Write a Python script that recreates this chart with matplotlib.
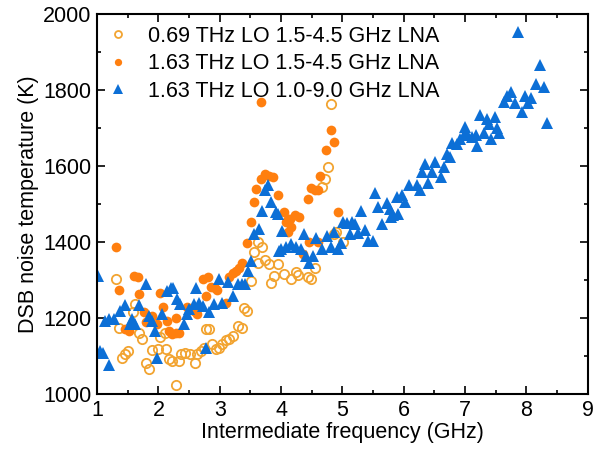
import matplotlib
matplotlib.use("Agg")
import matplotlib.pyplot as plt
from matplotlib.ticker import MultipleLocator

plt.rcParams['font.family'] = ['Liberation Sans', 'DejaVu Sans']

# 0.69 THz LO, 1.5-4.5 GHz LNA (open circles)
a_x = [1.31, 1.35, 1.40, 1.46, 1.51, 1.59, 1.62, 1.69, 1.73, 1.79, 1.84, 1.90, 2.00, 2.03,
       2.10, 2.13, 2.17, 2.22, 2.28, 2.33, 2.36, 2.44, 2.52, 2.59, 2.62, 2.69, 2.74, 2.77,
       2.82, 2.88, 2.93, 2.98, 3.03, 3.10, 3.15, 3.22, 3.29, 3.36, 3.40, 3.45, 3.51, 3.56,
       3.62, 3.68, 3.62, 3.73, 3.80, 3.84, 3.89, 3.95, 4.05, 4.16, 4.25, 4.27, 4.44, 4.49,
       4.55, 4.66, 4.71, 4.77, 4.82, 4.87, 4.90, 5.01]
a_y = [1303, 1173, 1096, 1105, 1113, 1215, 1237, 1162, 1144, 1083, 1065, 1115, 1118, 1149,
       1162, 1118, 1092, 1087, 1023, 1087, 1105, 1109, 1105, 1083, 1105, 1113, 1122, 1171,
       1171, 1133, 1118, 1122, 1131, 1142, 1144, 1153, 1179, 1175, 1226, 1219, 1298, 1373,
       1399, 1386, 1346, 1353, 1342, 1292, 1311, 1342, 1316, 1303, 1320, 1314, 1307, 1304,
       1333, 1544, 1567, 1597, 1763, 1421, 1426, 1399]

# 1.63 THz LO, 1.5-4.5 GHz LNA (filled circles)
b_x = [1.30, 1.35, 1.46, 1.52, 1.60, 1.66, 1.69, 1.77, 1.79, 1.90, 1.98, 2.03, 2.08, 2.14,
       2.17, 2.22, 2.28, 2.28, 2.33, 2.47, 2.58, 2.63, 2.72, 2.77, 2.80, 2.86, 2.92, 2.96,
       3.10, 3.15, 3.21, 3.26, 3.32, 3.37, 3.44, 3.51, 3.56, 3.59, 3.67, 3.67, 3.73, 3.81,
       3.86, 3.95, 4.05, 4.08, 4.11, 4.11, 4.16, 4.14, 4.22, 4.29, 4.36, 4.44, 4.46, 4.49,
       4.56, 4.60, 4.60, 4.63, 4.73, 4.82, 4.87, 4.93]
b_y = [1387, 1273, 1171, 1166, 1311, 1309, 1264, 1215, 1191, 1206, 1184, 1267, 1230, 1193,
       1166, 1158, 1162, 1201, 1162, 1228, 1219, 1210, 1304, 1259, 1309, 1282, 1280, 1274,
       1241, 1309, 1318, 1325, 1333, 1346, 1397, 1452, 1505, 1540, 1567, 1769, 1580, 1573,
       1571, 1523, 1480, 1452, 1461, 1426, 1439, 1461, 1470, 1467, 1369, 1514, 1399, 1543,
       1537, 1536, 1399, 1573, 1641, 1696, 1663, 1478]

# 1.63 THz LO, 1.0-9.0 GHz LNA (triangles)
c_x = [1.02, 1.05, 1.10, 1.13, 1.19, 1.20, 1.27, 1.38, 1.46, 1.53, 1.57, 1.62, 1.69, 1.80,
       1.84, 1.90, 1.95, 1.97, 2.06, 2.14, 2.20, 2.24, 2.30, 2.35, 2.41, 2.47, 2.50, 2.58,
       2.61, 2.66, 2.72, 2.77, 2.83, 2.90, 2.99, 3.04, 3.14, 3.21, 3.29, 3.37, 3.41, 3.46,
       3.51, 3.55, 3.64, 3.68, 3.73, 3.78, 3.84, 3.92, 3.95, 4.01, 4.00, 3.97, 4.08, 4.16,
       4.25, 4.33, 4.38, 4.41, 4.46, 4.52, 4.57, 4.66, 4.74, 4.82, 4.87, 4.93, 4.98, 5.01,
       5.07, 5.12, 5.15, 5.20, 5.26, 5.31, 5.37, 5.41, 5.50, 5.53, 5.58, 5.64, 5.72, 5.78,
       5.79, 5.83, 5.89, 5.91, 5.97, 6.02, 6.08, 6.21, 6.27, 6.30, 6.35, 6.40, 6.46, 6.51,
       6.60, 6.65, 6.70, 6.76, 6.79, 6.87, 6.92, 6.98, 7.00, 7.03, 7.11, 7.17, 7.20, 7.25,
       7.31, 7.36, 7.39, 7.43, 7.49, 7.52, 7.56, 7.63, 7.69, 7.74, 7.82, 7.87, 7.92, 7.97,
       8.02, 8.07, 8.16, 8.22, 8.28, 8.33]
c_y = [1311, 1113, 1109, 1193, 1197, 1077, 1197, 1219, 1235, 1184, 1197, 1184, 1235, 1291,
       1206, 1193, 1166, 1096, 1210, 1272, 1280, 1280, 1250, 1238, 1184, 1210, 1223, 1237,
       1280, 1241, 1232, 1122, 1215, 1237, 1303, 1241, 1296, 1259, 1289, 1289, 1289, 1325,
       1351, 1421, 1434, 1483, 1536, 1549, 1505, 1478, 1474, 1430, 1382, 1377, 1386, 1395,
       1386, 1382, 1421, 1364, 1346, 1364, 1412, 1382, 1417, 1386, 1426, 1382, 1397, 1452,
       1449, 1421, 1452, 1448, 1423, 1481, 1433, 1404, 1404, 1528, 1492, 1448, 1502, 1487,
       1465, 1470, 1518, 1474, 1523, 1505, 1549, 1549, 1538, 1584, 1606, 1555, 1584, 1611,
       1571, 1597, 1633, 1624, 1661, 1659, 1672, 1681, 1703, 1685, 1676, 1681, 1654, 1734,
       1687, 1725, 1712, 1670, 1729, 1701, 1687, 1769, 1784, 1795, 1765, 1953, 1742, 1784,
       1765, 1780, 1817, 1867, 1808, 1713]

labels = ["0.69 THz LO 1.5-4.5 GHz LNA",
          "1.63 THz LO 1.5-4.5 GHz LNA",
          "1.63 THz LO 1.0-9.0 GHz LNA"]
col_a = "#F2A431"
col_b = "#FF7F0F"
col_c = "#0C6FD6"

fig = plt.figure(figsize=(6.11, 4.53), dpi=100)
ax = fig.add_axes([0.159, 0.130, 0.803, 0.839])

ax.plot(a_x, a_y, linestyle='none', marker='o', markersize=6.7, markerfacecolor='none',
        markeredgecolor=col_a, markeredgewidth=1.3, label=labels[0])
ax.plot(b_x, b_y, linestyle='none', marker='o', markersize=7, markerfacecolor=col_b,
        markeredgecolor=col_b, markeredgewidth=0, label=labels[1])
ax.plot(c_x, c_y, linestyle='none', marker='^', markersize=9, markerfacecolor=col_c,
        markeredgecolor=col_c, markeredgewidth=0, label=labels[2])

ax.set_xlim(1, 9)
ax.set_ylim(1000, 2000)
ax.xaxis.set_major_locator(MultipleLocator(1))
ax.xaxis.set_minor_locator(MultipleLocator(0.5))
ax.yaxis.set_major_locator(MultipleLocator(200))
ax.yaxis.set_minor_locator(MultipleLocator(100))
ax.tick_params(which='both', direction='in', top=True, right=True, labelsize=15.5, width=1.2)
ax.tick_params(which='major', length=6, pad=4)
ax.tick_params(which='minor', length=3)
for s in ax.spines.values():
    s.set_linewidth(1.5)

ax.set_xlabel("Intermediate frequency (GHz)", fontsize=15.5, labelpad=1)
ax.set_ylabel("DSB noise temperature (K)", fontsize=15.5, labelpad=3)

leg = ax.legend(loc='upper left', frameon=False, fontsize=15.5, markerscale=0.75,
                handlelength=0.8, handletextpad=1.0, labelspacing=0.3,
                borderaxespad=0.15, bbox_to_anchor=(0.0, 1.0))

fig.savefig("out.png", dpi=100)
